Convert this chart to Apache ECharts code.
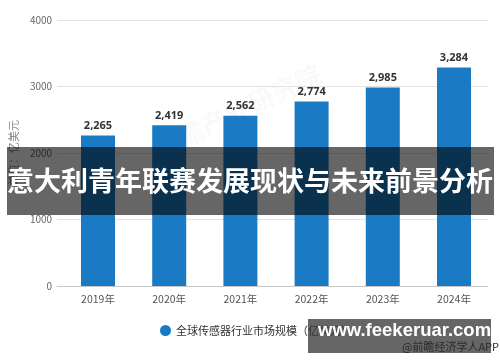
<!DOCTYPE html>
<html>
<head>
<meta charset="utf-8">
<script src="https://cdn.jsdelivr.net/npm/echarts@6/dist/echarts.min.js"></script>
<style>
html,body{margin:0;padding:0;background:#fff;}
#chart{width:500px;height:362px;}
</style>
</head>
<body>
<div id="chart"></div>
<script>
const categories = ['2019年', '2020年', '2021年', '2022年', '2023年', '2024年'];
const values = [2265, 2419, 2562, 2774, 2985, 3284];
const seriesName = '全球传感器行业市场规模（亿美元）';
const yAxisName = '单位：亿美元';
const bannerText = '意大利青年联赛发展现状与未来前景分析';
const siteText = 'www.feekeruar.com';
const sourceText = '@前瞻经济学人APP';

const FONT = '"Noto Sans CJK SC", "Noto Sans", sans-serif';
const chart = echarts.init(document.getElementById('chart'), null, {renderer: 'canvas'});
chart.setOption({
  animation: false,
  backgroundColor: '#fff',
  textStyle: {fontFamily: FONT},
  grid: [
    {left: 53, right: 12, top: 20, bottom: 76},
    {left: 62.4, right: 10.4, top: 20, bottom: 76}
  ],
  xAxis: [
    {gridIndex: 0, type: 'category', data: [''],
     axisLine: {show: true, lineStyle: {color: '#c8c8c8'}},
     axisTick: {show: false}, axisLabel: {show: false}},
    {gridIndex: 1, type: 'category', data: categories,
     axisLine: {show: false}, axisTick: {show: false},
     axisLabel: {color: '#555', fontSize: 10.5, margin: 8, fontFamily: FONT}}
  ],
  yAxis: [
    {gridIndex: 0, type: 'value', min: 0, max: 4000, interval: 1000,
     name: yAxisName, nameLocation: 'middle', nameGap: 35,
     nameTextStyle: {color: '#888', fontSize: 11, fontFamily: FONT},
     axisLine: {show: false}, axisTick: {show: false},
     axisLabel: {color: '#666', fontSize: 10, margin: 5, fontFamily: FONT,
       formatter: v => String(v)},
     splitLine: {lineStyle: {color: '#e3e3e3'}}},
    {gridIndex: 1, type: 'value', min: 0, max: 4000, interval: 1000, show: false,
     splitLine: {show: false}}
  ],
  legend: {
    left: 155, top: 320, icon: 'circle', itemWidth: 11, itemHeight: 11, zlevel: 1,
    textStyle: {color: '#333', fontSize: 11, fontFamily: FONT},
    data: [seriesName]
  },
  series: [{
    name: seriesName, type: 'bar', xAxisIndex: 1, yAxisIndex: 1,
    data: values, barWidth: 34,
    itemStyle: {color: '#1a7ac4'},
    label: {show: true, position: 'top', distance: 4, color: '#333',
      fontWeight: 'bold', fontSize: 11, fontFamily: '"Noto Sans", sans-serif',
      formatter: p => p.value.toLocaleString('en-US')}
  }],
  graphic: [
    {type: 'text', left: 150, top: 60, rotation: Math.PI / 7, z: 0, silent: true,
     style: {text: '前瞻产业研究院', fill: 'rgba(0,0,0,0.025)', font: 'bold 26px ' + FONT}},
    {type: 'rect', left: 7, top: 147, z: 100,
     shape: {width: 487, height: 68}, style: {fill: 'rgba(0,0,0,0.6)'}},
    {type: 'text', left: 'center', top: 167, z: 101,
     style: {text: bannerText, fill: '#fff', font: 'bold 27px ' + FONT}},
    {type: 'rect', left: 308, top: 319, z: 100,
     shape: {width: 183, height: 34}, style: {fill: 'rgba(0,0,0,0.6)'}},
    {type: 'text', left: 318, top: 321, z: 160, zlevel: 2,
     style: {text: siteText, fill: '#fff', font: 'bold 18.5px "Liberation Sans", sans-serif'}},
    {type: 'text', left: 402, top: 341, z: 160, zlevel: 2,
     style: {text: sourceText, fill: '#2a2a2a', font: '11px ' + FONT}}
  ]
});
</script>
</body>
</html>
